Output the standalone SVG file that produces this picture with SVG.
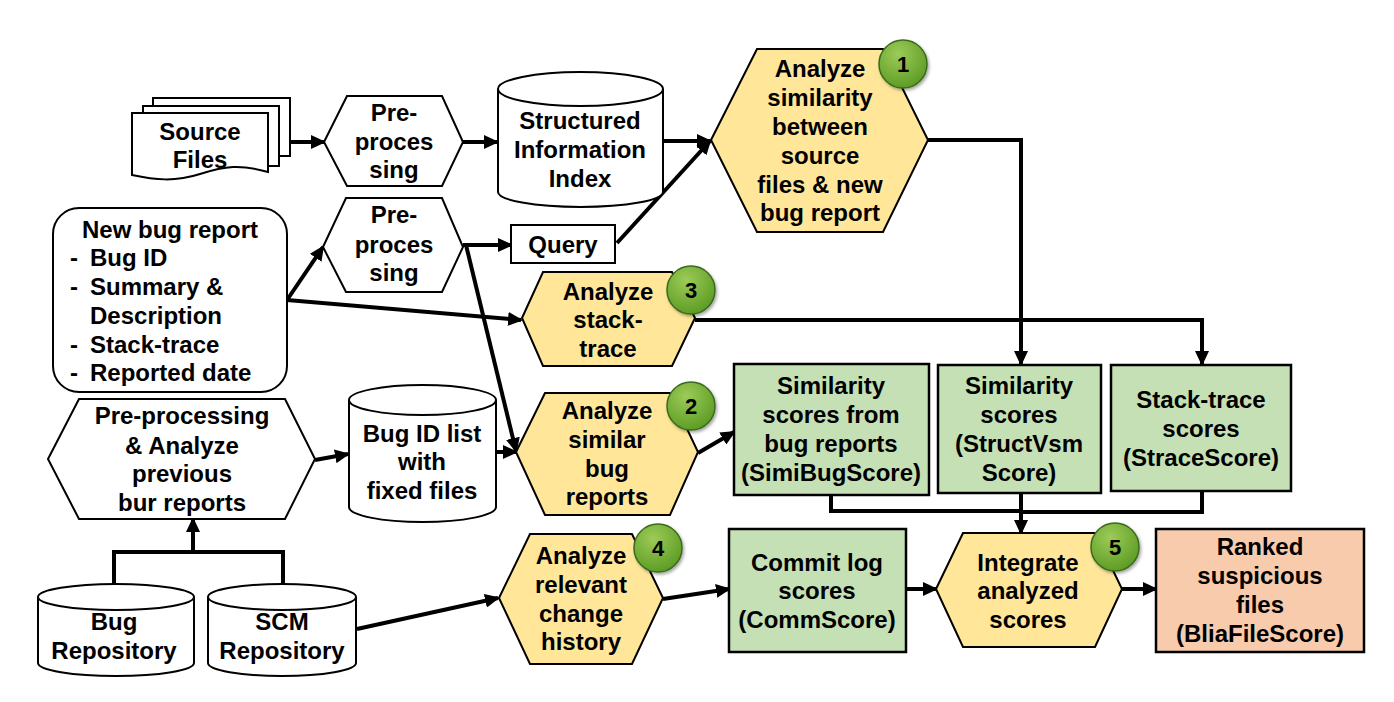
<svg xmlns="http://www.w3.org/2000/svg" width="1394" height="702" viewBox="0 0 1394 702">
<defs>
<style>
text{font-family:"Liberation Sans",Arial,sans-serif;font-weight:bold;font-size:24px;fill:#000;text-anchor:middle}
.t{text-anchor:start}
.w{fill:#fff;stroke:#000;stroke-width:2}
.y{fill:#FFE699;stroke:#000;stroke-width:2}
.g{fill:#C5E0B4;stroke:#000;stroke-width:2.5}
.o{fill:#F8CBAD;stroke:#000;stroke-width:2.5}
.c{fill:none;stroke:#000;stroke-width:4;stroke-linejoin:miter}
.a{marker-end:url(#ah)}
.n{fill:url(#gg);stroke:#3B6B1C;stroke-width:1.5;filter:url(#sh)}
.nt{font-size:22px}
</style>
<marker id="ah" markerUnits="userSpaceOnUse" markerWidth="16" markerHeight="14" refX="13" refY="7" orient="auto">
<path d="M0,0 L15,7 L0,14 Z" fill="#000"/>
</marker>
<radialGradient id="gg" cx="0.4" cy="0.3" r="0.75">
<stop offset="0" stop-color="#9CCB58"/>
<stop offset="1" stop-color="#5A9A22"/>
</radialGradient>
<filter id="sh" x="-30%" y="-30%" width="170%" height="170%">
<feDropShadow dx="1.5" dy="2" stdDeviation="1.5" flood-color="#000" flood-opacity="0.35"/>
</filter>
</defs>

<g id="connectors">
<path class="c a" d="M290,142 H324"/>
<path class="c a" d="M463,142 H497"/>
<path class="c a" d="M663,141 H710"/>
<path class="c a" d="M617,243 L710,141"/>
<path class="c a" d="M463,245 H511"/>
<path class="c a" d="M466,245 L516,451"/>
<path class="c a" d="M287,300 L323,247"/>
<path class="c a" d="M287,300 L521,320"/>
<path class="c a" d="M928,140 H1021 V364"/>
<path class="c a" d="M695,320 H1202 V364"/>
<path class="c a" d="M315,460 L348,454"/>
<path class="c a" d="M496,452 H516"/>
<path class="c" d="M114,584 V552 H283 V584"/>
<path class="c a" d="M193,552 V519"/>
<path class="c a" d="M357,629 L498,598"/>
<path class="c a" d="M698,453 L734,432"/>
<path class="c" d="M831,495 V511 H1021"/>
<path class="c" d="M1202,491 V512 H1021"/>
<path class="c a" d="M1021,493 V533"/>
<path class="c a" d="M663,599 L729,589"/>
<path class="c a" d="M906,589 H936"/>
<path class="c a" d="M1122,589 H1156"/>
</g>

<g id="source-files">
<rect class="w" x="153" y="98" width="137" height="58"/>
<rect class="w" x="143" y="106" width="136" height="60"/>
<path class="w" d="M132,113 H268 V172 C240,164 225,166 200,174 C175,182 155,180 132,175 Z"/>
<text x="200" y="140">Source</text>
<text x="200" y="168">Files</text>
</g>

<g id="preprocessing-1">
<polygon class="w" points="324,142 347,96 442,96 463,142 442,186 347,186"/>
<text x="394" y="121">Pre-</text>
<text x="394" y="150">proces</text>
<text x="394" y="178">sing</text>
</g>

<g id="structured-index">
<path class="w" d="M498,89 V192 A82.5,15 0 0 0 663,192 V89 A82.5,17 0 0 0 498,89 A82.5,17 0 0 0 663,89"/>
<text x="580" y="129">Structured</text>
<text x="580" y="158">Information</text>
<text x="580" y="187">Index</text>
</g>

<g id="analyze-similarity">
<polygon class="y" points="711,140 757,49 883,49 928,140 883,232 757,232"/>
<text x="820" y="77">Analyze</text>
<text x="820" y="106">similarity</text>
<text x="820" y="135">between</text>
<text x="820" y="164">source</text>
<text x="820" y="193">files &amp; new</text>
<text x="820" y="221">bug report</text>
<circle class="n" cx="903" cy="64" r="24"/>
<text class="nt" x="903" y="72">1</text>
</g>

<g id="new-bug-report">
<rect class="w" x="53" y="208" width="234" height="184" rx="26"/>
<text class="t" x="82" y="238">New bug report</text>
<text class="t" x="70" y="266">-</text><text class="t" x="90" y="266">Bug ID</text>
<text class="t" x="70" y="295">-</text><text class="t" x="90" y="295">Summary &amp;</text>
<text class="t" x="90" y="324">Description</text>
<text class="t" x="70" y="353">-</text><text class="t" x="90" y="353">Stack-trace</text>
<text class="t" x="70" y="381">-</text><text class="t" x="90" y="381">Reported date</text>
</g>

<g id="preprocessing-2">
<polygon class="w" points="323,247 346,198 442,198 463,247 442,292 346,292"/>
<text x="394" y="223">Pre-</text>
<text x="394" y="253">proces</text>
<text x="394" y="281">sing</text>
</g>

<g id="query">
<rect class="w" x="511" y="225" width="104" height="38"/>
<text x="563" y="253">Query</text>
</g>

<g id="analyze-stack-trace">
<polygon class="y" points="522,318 543,272 672,272 695,318 672,366 543,366"/>
<text x="608" y="300">Analyze</text>
<text x="608" y="328">stack-</text>
<text x="608" y="357">trace</text>
<circle class="n" cx="691" cy="290" r="24"/>
<text class="nt" x="691" y="298">3</text>
</g>

<g id="preprocess-analyze-previous">
<polygon class="w" points="48,459 79,399 285,399 315,459 285,519 79,519"/>
<text x="182" y="424">Pre-processing</text>
<text x="182" y="454">&amp; Analyze</text>
<text x="182" y="482">previous</text>
<text x="182" y="511">bur reports</text>
</g>

<g id="bug-id-list">
<path class="w" d="M349,400 V507 A73.5,15 0 0 0 496,507 V400 A73.5,15 0 0 0 349,400 A73.5,15 0 0 0 496,400"/>
<text x="422" y="442">Bug ID list</text>
<text x="422" y="470">with</text>
<text x="422" y="499">fixed files</text>
</g>

<g id="analyze-similar-bug-reports">
<polygon class="y" points="516,452 545,393 670,393 698,452 670,515 545,515"/>
<text x="607" y="419">Analyze</text>
<text x="607" y="448">similar</text>
<text x="607" y="477">bug</text>
<text x="607" y="505">reports</text>
<circle class="n" cx="691" cy="406" r="24"/>
<text class="nt" x="691" y="414">2</text>
</g>

<g id="simibug-score">
<rect class="g" x="734" y="364" width="195" height="131"/>
<text x="831" y="394">Similarity</text>
<text x="831" y="423">scores from</text>
<text x="831" y="452">bug reports</text>
<text x="831" y="481">(SimiBugScore)</text>
</g>

<g id="structvsm-score">
<rect class="g" x="938" y="365" width="163" height="128"/>
<text x="1019" y="394">Similarity</text>
<text x="1019" y="423">scores</text>
<text x="1019" y="452">(StructVsm</text>
<text x="1019" y="481">Score)</text>
</g>

<g id="strace-score">
<rect class="g" x="1111" y="365" width="180" height="126"/>
<text x="1201" y="408">Stack-trace</text>
<text x="1201" y="437">scores</text>
<text x="1201" y="466">(StraceScore)</text>
</g>

<g id="bug-repository">
<path class="w" d="M38,597 V663 A78,13 0 0 0 194,663 V597 A78,13 0 0 0 38,597 A78,13 0 0 0 194,597"/>
<text x="114" y="630">Bug</text>
<text x="114" y="659">Repository</text>
</g>

<g id="scm-repository">
<path class="w" d="M208,597 V663 A74,13 0 0 0 356,663 V597 A74,13 0 0 0 208,597 A74,13 0 0 0 356,597"/>
<text x="282" y="630">SCM</text>
<text x="282" y="659">Repository</text>
</g>

<g id="analyze-change-history">
<polygon class="y" points="499,598 530,534 632,534 663,598 632,664 530,664"/>
<text x="581" y="564">Analyze</text>
<text x="581" y="593">relevant</text>
<text x="581" y="622">change</text>
<text x="581" y="650">history</text>
<circle class="n" cx="658" cy="548" r="24"/>
<text class="nt" x="658" y="556">4</text>
</g>

<g id="commit-log-score">
<rect class="g" x="729" y="529" width="177" height="123"/>
<text x="817" y="571">Commit log</text>
<text x="817" y="599">scores</text>
<text x="817" y="628">(CommScore)</text>
</g>

<g id="integrate-scores">
<polygon class="y" points="936,589 963,533 1095,533 1122,589 1095,647 963,647"/>
<text x="1028" y="571">Integrate</text>
<text x="1028" y="599">analyzed</text>
<text x="1028" y="628">scores</text>
<circle class="n" cx="1115" cy="547" r="24"/>
<text class="nt" x="1115" y="555">5</text>
</g>

<g id="ranked-files">
<rect class="o" x="1156" y="529" width="208" height="123"/>
<text x="1260" y="555">Ranked</text>
<text x="1260" y="584">suspicious</text>
<text x="1260" y="613">files</text>
<text x="1260" y="642">(BliaFileScore)</text>
</g>
</svg>
